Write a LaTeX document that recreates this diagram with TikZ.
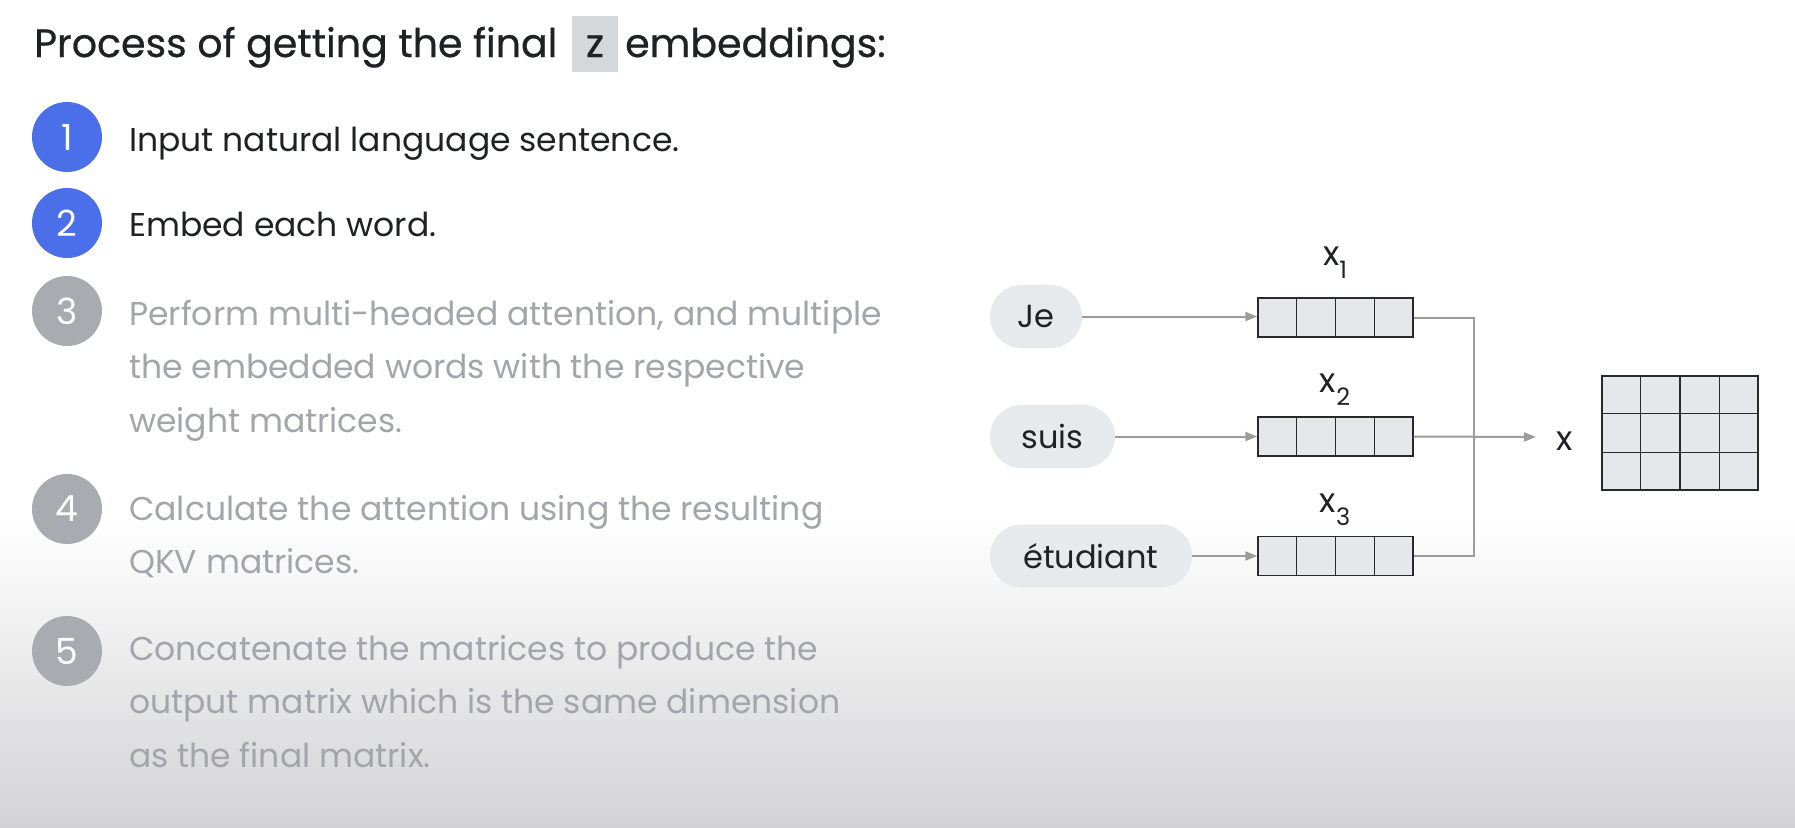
\documentclass[tikz,border=0pt]{standalone}
\usepackage{fontspec}
\setmainfont{Poppins}
\newfontfamily\titlefont{Poppins}[FakeBold=0.6]
\usetikzlibrary{calc,arrows.meta}
\definecolor{gblue}{HTML}{4A6FE9}
\definecolor{cgray}{HTML}{A9ABB0}
\definecolor{dark}{HTML}{202124}
\definecolor{ltext}{HTML}{A3A5AA}
\definecolor{zgray}{HTML}{D6D7DB}
\definecolor{pillgray}{HTML}{E8E9EC}
\definecolor{cellgray}{HTML}{E6E7EA}
\definecolor{cellline}{HTML}{2A2A2A}
\definecolor{conncol}{HTML}{9C9C9C}
\definecolor{bggray}{HTML}{D3D3D5}
\newcommand\subidx[1]{\raisebox{-13pt}{\fontsize{24}{24}\selectfont #1}}
\tikzset{
  titletext/.style={font=\titlefont\fontsize{39.5}{42}\selectfont, text=dark, inner sep=0, anchor=base west},
  zbox/.style={fill=zgray, font=\titlefont\fontsize{39.5}{42}\selectfont, text=dark, inner sep=0, minimum width=46, text height=41, text depth=15, anchor=base},
  numc/.style={circle, inner sep=0, minimum size=70, text=white, font=\fontsize{36}{36}\selectfont},
  steptext/.style={font=\fontsize{33}{36}\selectfont, inner sep=0, anchor=base west},
  pill/.style={rounded corners=31.5pt, fill=pillgray, minimum height=63, inner sep=0, text=dark, font=\fontsize{32}{36}\selectfont},
  vec/.style={draw=cellline, fill=cellgray, line width=1.4pt, minimum width=155, minimum height=39, inner sep=0},
  lab/.style={font=\fontsize{34}{36}\selectfont, text=dark, inner sep=0, anchor=base},
  conn/.style={draw=conncol, line width=2pt},
  arr/.style={conn, -{Triangle[length=12pt,width=9pt]}, conncol}
}
\begin{document}
\begin{tikzpicture}[x=1pt,y=-1pt]
\useasboundingbox (0,0) rectangle (1795,827);
\fill[white] (0,0) rectangle (1795,827);
\shade[top color=white, bottom color=bggray] (0,520) rectangle (1795,827);

% title
\node[titletext] (t1) at (34,57) {Process of getting the final};
\node[zbox] (zb) at (595,57) {z};
\node[titletext] (t3) at (625,57) {embeddings:};

% steps
\node[numc, fill=gblue] (c1) at (67,137) {1};
\node[numc, fill=gblue] (c2) at (67,223) {2};
\node[numc, fill=cgray] (c3) at (67,311) {3};
\node[numc, fill=cgray] (c4) at (67,509) {4};
\node[numc, fill=cgray] (c5) at (67,651) {5};

\node[steptext, text=dark] (s1) at (129,151) {Input natural language sentence.};
\node[steptext, text=dark] (s2) at (129,236) {Embed each word.};
\node[steptext, text=ltext] (s3a) at (129,325) {Perform multi-headed attention, and multiple};
\node[steptext, text=ltext] (s3b) at (129,378.5) {the embedded words with the respective};
\node[steptext, text=ltext] (s3c) at (129,432) {weight matrices.};
\node[steptext, text=ltext] (s4a) at (129,520) {Calculate the attention using the resulting};
\node[steptext, text=ltext] (s4b) at (129,573.5) {QKV matrices.};
\node[steptext, text=ltext] (s5a) at (129,660) {Concatenate the matrices to produce the};
\node[steptext, text=ltext] (s5b) at (129,713.5) {output matrix which is the same dimension};
\node[steptext, text=ltext] (s5c) at (129,767) {as the final matrix.};

% diagram
\node[pill, minimum width=92] (je) at (1036,316.5) {Je};
\node[pill, minimum width=125] (suis) at (1052.5,436.5) {suis};
\node[pill, minimum width=202] (etu) at (1091,556) {étudiant};

\node[vec] (v1) at (1335.5,317.5) {};
\node[vec] (v2) at (1335.5,436.5) {};
\node[vec] (v3) at (1335.5,556) {};
\foreach \v in {v1,v2,v3}{
  \foreach \k in {1,2,3}{
    \draw[cellline, line width=1.4pt] ($(\v.south west)!\k/4!(\v.south east)$) -- ($(\v.north west)!\k/4!(\v.north east)$);
  }
}

\node[lab] (l1) at (1335,265) {x\subidx{1}};
\node[lab] (l2) at (1335,392) {x\subidx{2}};
\node[lab] (l3) at (1335,512) {x\subidx{3}};

\draw[arr] (je.east) -- (je.east -| v1.west);
\draw[arr] (suis.east) -- (suis.east -| v2.west);
\draw[arr] (etu.east) -- (etu.east -| v3.west);

\coordinate (bus) at (1474,437);
\coordinate (xin) at (1536,437);
\draw[conn] (v1.east) -| (bus);
\draw[conn] (v3.east) -| (bus);
\draw[arr] (v2.east) -- (xin);

\node[lab] (X) at (1565,450) {x};

\node[vec, minimum width=156, minimum height=114] (M) at (1680,433) {};
\foreach \k in {1,2,3}{
  \draw[cellline, line width=1.4pt] ($(M.south west)!\k/4!(M.south east)$) -- ($(M.north west)!\k/4!(M.north east)$);
}
\foreach \k in {1,2}{
  \draw[cellline, line width=1.4pt] ($(M.south west)!\k/3!(M.north west)$) -- ($(M.south east)!\k/3!(M.north east)$);
}
\end{tikzpicture}
\end{document}
